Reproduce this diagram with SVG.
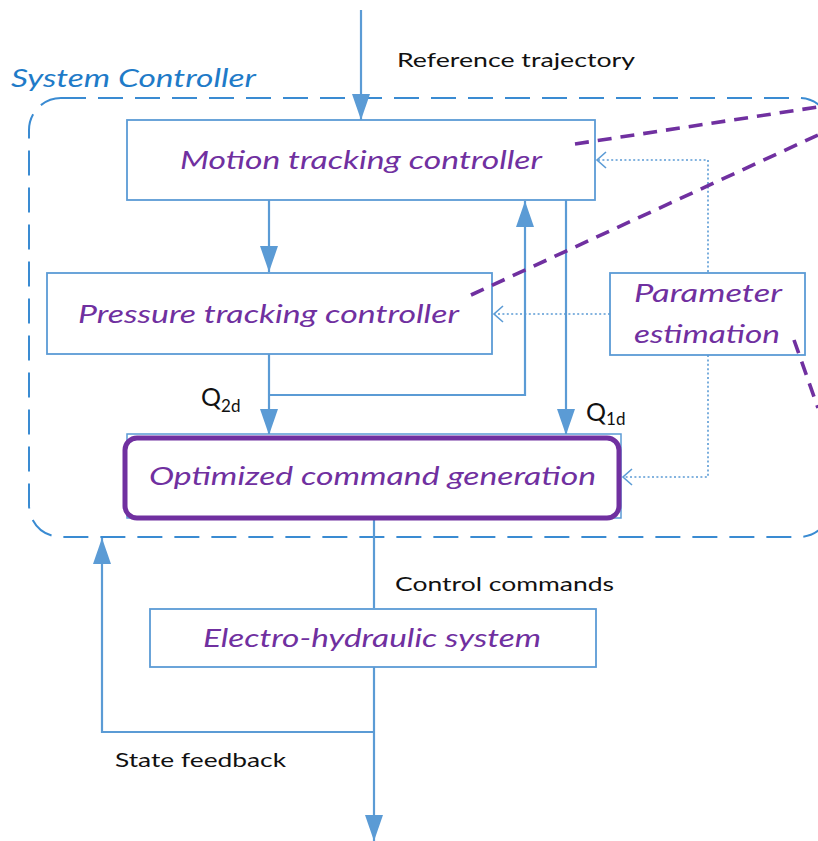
<svg xmlns="http://www.w3.org/2000/svg" width="818" height="841" viewBox="0 0 818 841">
<style>
.box{fill:#fff;stroke:#5B9BD5;stroke-width:1.8}
.nl{font-family:Lato,"Liberation Sans",sans-serif;font-style:italic;font-size:26px;fill:#7030A0}
.lbl{font-family:Lato,"Liberation Sans",sans-serif;font-size:20px;fill:#111}
.q{font-family:Lato,"Liberation Sans",sans-serif;font-size:25px;fill:#111}
.ln{fill:none;stroke:#5B9BD5;stroke-width:2.2}
.dot{fill:none;stroke:#5B9BD5;stroke-width:1.6;stroke-dasharray:2 2.4}
.pd{fill:none;stroke:#7030A0;stroke-width:3.6;stroke-dasharray:14 9}
</style>
<defs>
<marker id="ah" markerUnits="userSpaceOnUse" markerWidth="26" markerHeight="18" refX="26" refY="9" orient="auto">
<path d="M0,0 L26,9 L0,18 z" fill="#5B9BD5"/>
</marker>
<marker id="ch" markerUnits="userSpaceOnUse" markerWidth="12" markerHeight="18" refX="10" refY="9" orient="auto">
<path d="M1,1 L10,9 L1,17" fill="none" stroke="#5B9BD5" stroke-width="1.6"/>
</marker>
</defs>
<rect width="818" height="841" fill="#fff"/>

<g id="system-controller">
<rect x="29" y="98" width="802" height="439" rx="32" fill="none" stroke="#3A8BD2" stroke-width="2" stroke-dasharray="25 12"/>
<text x="11" y="87" font-family="Lato,'Liberation Sans',sans-serif" font-style="italic" font-size="26" fill="#1F7BC8" textLength="245" lengthAdjust="spacingAndGlyphs">System Controller</text>
</g>

<g id="connectors">
<line class="ln" x1="361" y1="10" x2="361" y2="120" marker-end="url(#ah)"/>
<line class="ln" x1="269" y1="200" x2="269" y2="272" marker-end="url(#ah)"/>
<line class="ln" x1="269" y1="354" x2="269" y2="435" marker-end="url(#ah)"/>
<polyline class="ln" points="269,395 525,395 525,201" marker-end="url(#ah)"/>
<line class="ln" x1="566" y1="197" x2="566" y2="435" marker-end="url(#ah)"/>
<line class="ln" x1="374" y1="518" x2="374" y2="608"/>
<line class="ln" x1="374" y1="666" x2="374" y2="841" marker-end="url(#ah)"/>
<polyline class="ln" points="374,732 102,732 102,538" marker-end="url(#ah)"/>
<polyline class="dot" points="708,272 708,160 597,160" marker-end="url(#ch)"/>
<line class="dot" x1="610" y1="314" x2="494" y2="314" marker-end="url(#ch)"/>
<polyline class="dot" points="708,355 708,477 623,477" marker-end="url(#ch)"/>
<text class="lbl" x="397" y="67" textLength="238" lengthAdjust="spacingAndGlyphs">Reference trajectory</text>
<text class="q" x="201" y="406">Q<tspan font-size="17" dy="6">2d</tspan></text>
<text class="q" x="586" y="421">Q<tspan font-size="17" dy="4">1d</tspan></text>
<text class="lbl" x="395" y="591" textLength="219" lengthAdjust="spacingAndGlyphs">Control commands</text>
<text class="lbl" x="115" y="767" textLength="171" lengthAdjust="spacingAndGlyphs">State feedback</text>
</g>

<g id="motion-tracking-controller">
<rect class="box" x="127" y="120" width="468" height="80"/>
<text class="nl" x="180" y="169" textLength="362" lengthAdjust="spacingAndGlyphs">Motion tracking controller</text>
</g>

<g id="pressure-tracking-controller">
<rect class="box" x="47" y="273" width="445" height="81"/>
<text class="nl" x="78" y="323" textLength="381" lengthAdjust="spacingAndGlyphs">Pressure tracking controller</text>
</g>

<g id="parameter-estimation">
<rect class="box" x="610" y="273" width="195" height="82"/>
<text class="nl" x="634" y="302" textLength="148" lengthAdjust="spacingAndGlyphs">Parameter</text>
<text class="nl" x="634" y="343" textLength="146" lengthAdjust="spacingAndGlyphs">estimation</text>
</g>

<g id="optimized-command-generation">
<rect x="127" y="434" width="494" height="84" fill="#fff" stroke="#5B9BD5" stroke-width="1.5"/>
<rect x="125" y="438" width="494" height="80" rx="12" fill="#fff" stroke="#7030A0" stroke-width="5"/>
<text class="nl" x="149" y="485" textLength="447" lengthAdjust="spacingAndGlyphs">Optimized command generation</text>
</g>

<g id="electro-hydraulic-system">
<rect class="box" x="150" y="609" width="446" height="58"/>
<text class="nl" x="203" y="647" textLength="338" lengthAdjust="spacingAndGlyphs">Electro-hydraulic system</text>
</g>

<g id="zoom-callout-lines">
<line class="pd" x1="575" y1="144" x2="818" y2="107"/>
<line class="pd" x1="471" y1="295" x2="818" y2="135"/>
<line class="pd" x1="794" y1="340" x2="818" y2="408"/>
</g>
</svg>
